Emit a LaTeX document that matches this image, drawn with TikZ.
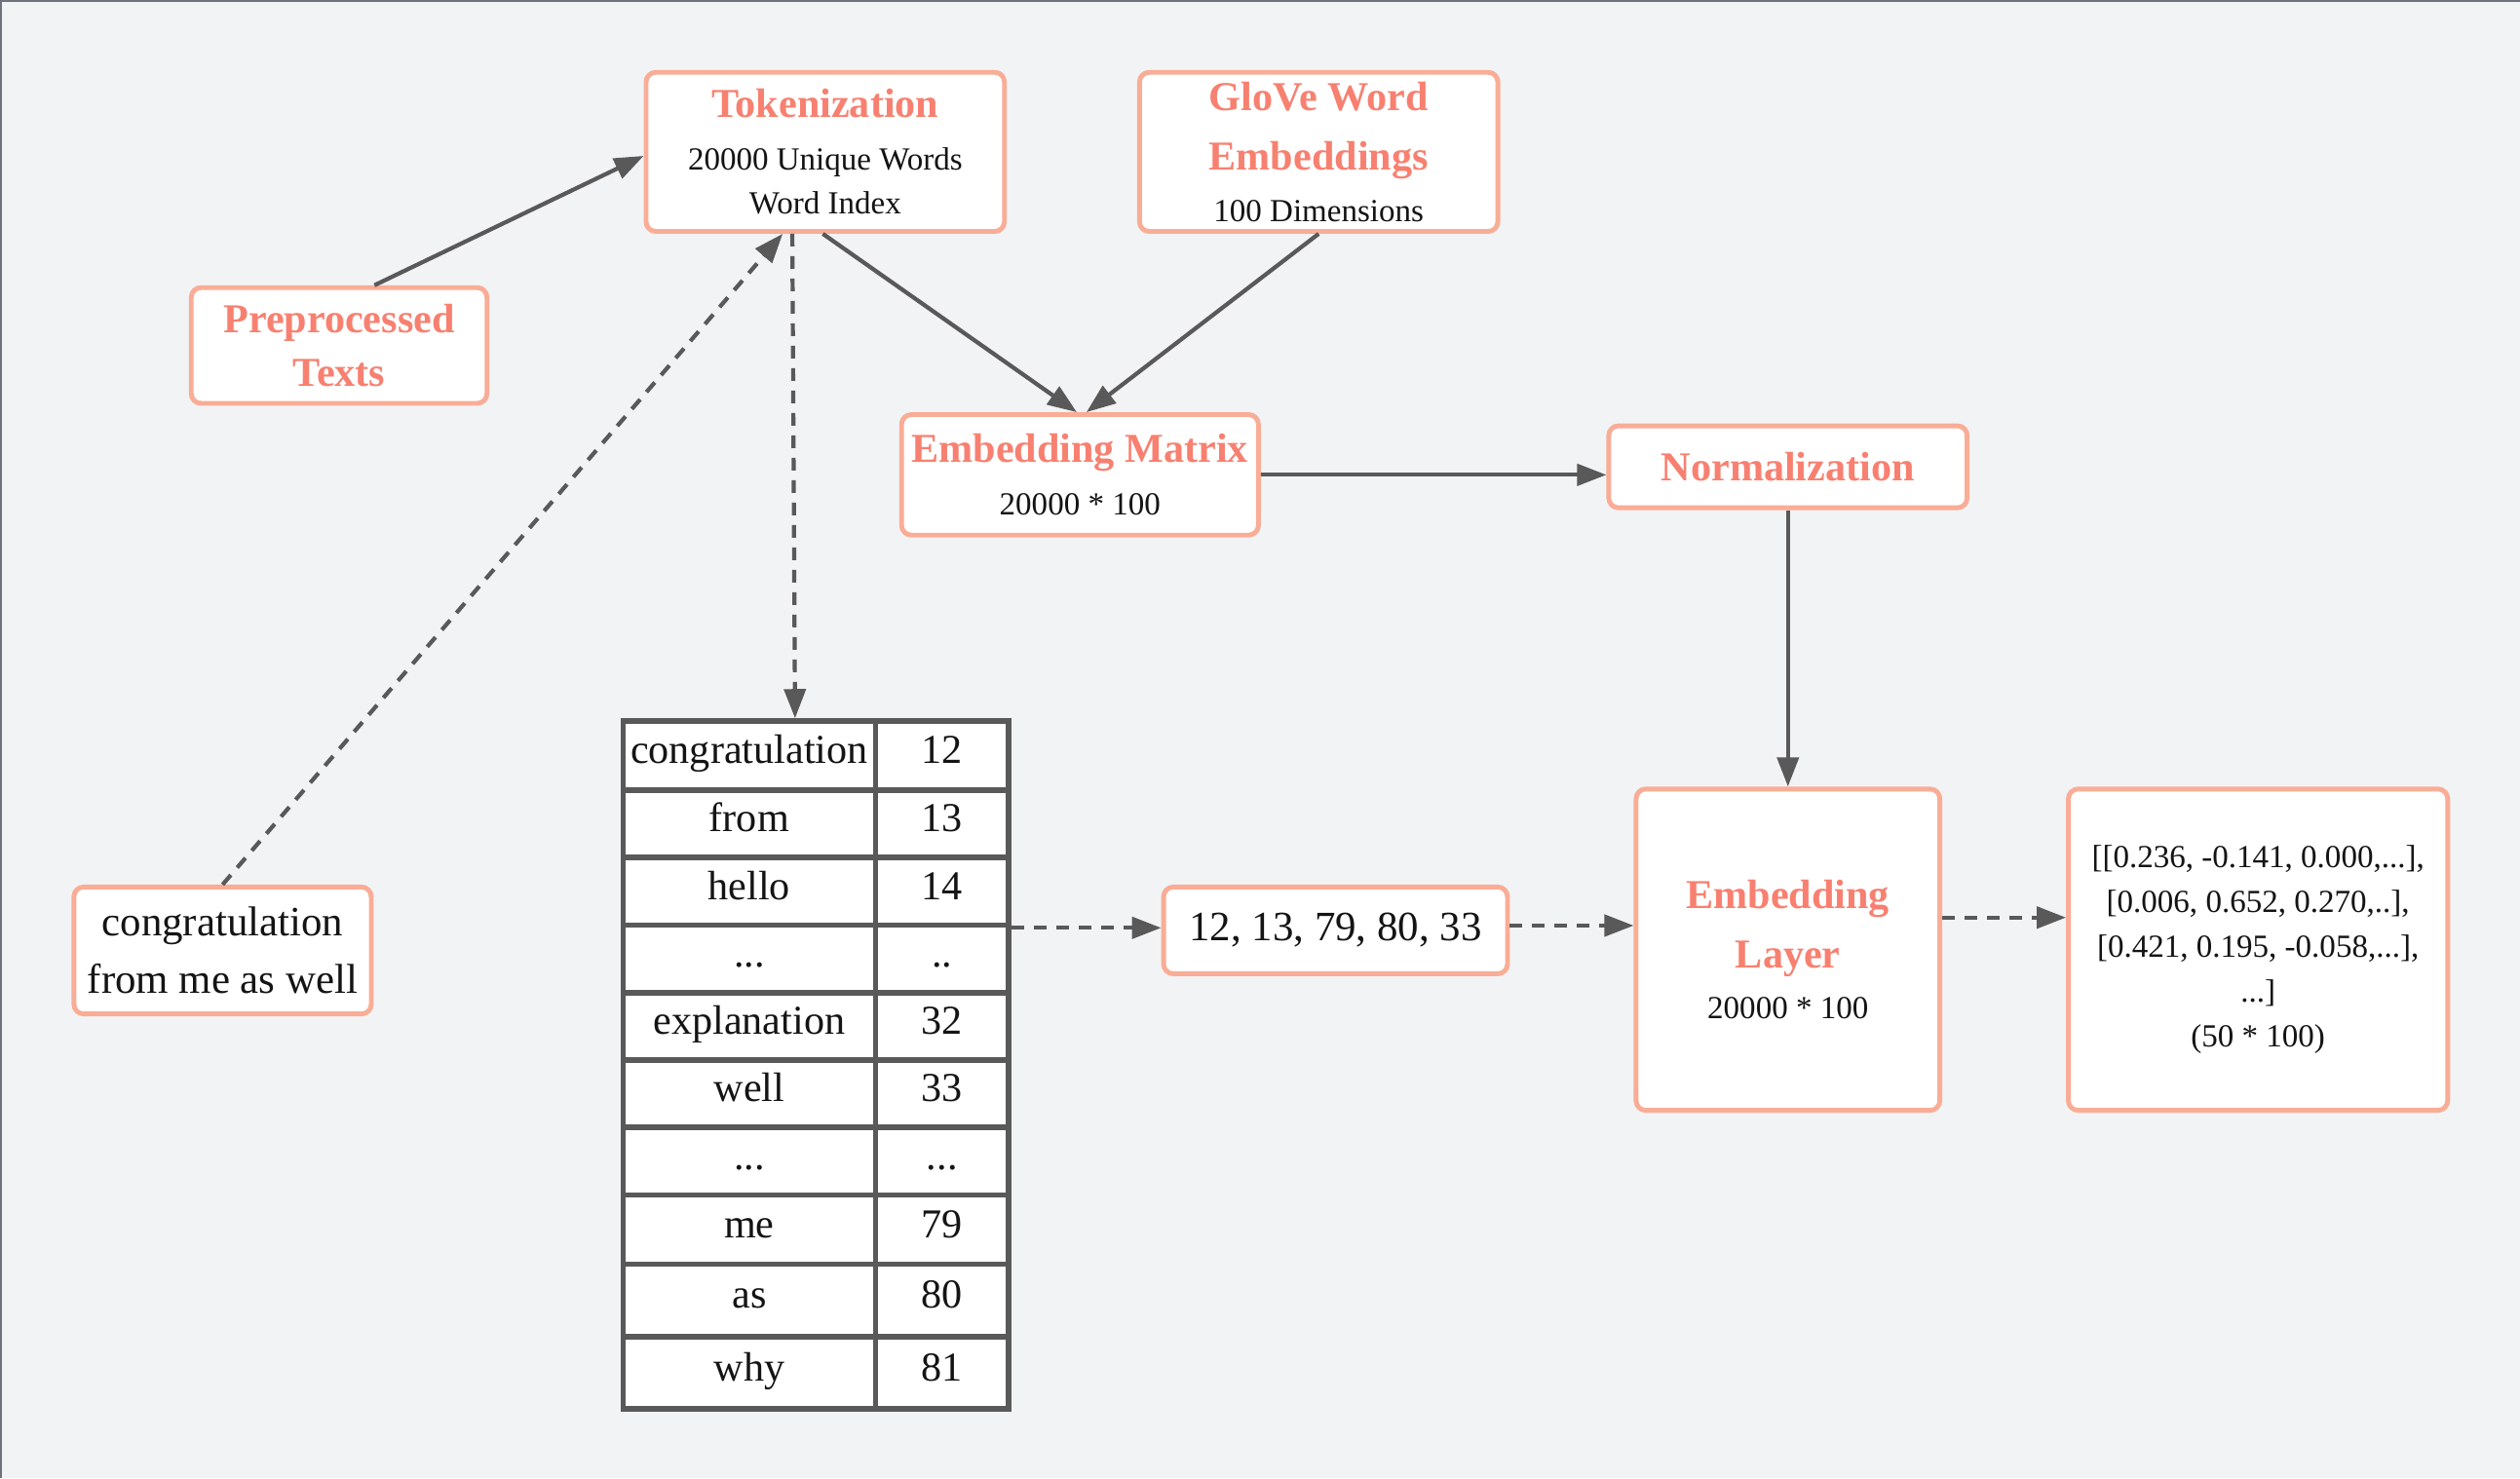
\documentclass[tikz,border=0pt]{standalone}
\usepackage{fontspec}
\setmainfont{Liberation Serif}
\usetikzlibrary{arrows.meta,calc}
\newdimen\px \px=0.0165cm
\definecolor{bgc}{RGB}{242,243,245}
\definecolor{framec}{RGB}{110,114,125}
\definecolor{boxc}{RGB}{249,173,150}
\definecolor{ttlc}{RGB}{248,128,112}
\definecolor{arrc}{RGB}{89,89,89}
\definecolor{txtc}{RGB}{20,20,20}
\newcommand{\ttl}[1]{{\color{ttlc}\bfseries\fontsize{12}{16}\selectfont #1}}
\newcommand{\threedots}{...}
\newcommand{\twodots}{..}
\begin{document}
\begin{tikzpicture}[x=0.0165cm,y=-0.0165cm,
  box/.style={draw=boxc, line width=1.4pt, rounded corners=0.1cm, fill=white, inner sep=0pt,
    align=center, text=txtc, font=\fontsize{9.4}{12.7}\selectfont},
  bigbox/.style={box, font=\fontsize{12.2}{16.9}\selectfont},
  cell/.style={draw=arrc, line width=1.6pt, fill=white, inner sep=0pt, anchor=north west,
    text=txtc, font=\fontsize{12}{14}\selectfont, text height=7.6pt, text depth=2.9pt},
  arr/.style={draw=arrc, line width=1.2pt, -{Triangle[length=0.3cm,width=0.22cm]}},
  darr/.style={arr, dash pattern=on 0.13cm off 0.1cm}]
\useasboundingbox (0,0) rectangle (1568,920);
\fill[bgc] (0,0) rectangle (1568,920);
\draw[framec, line width=1.2pt] (0,920) -- (0,0) -- (1568,0);

% boxes
\node[box, minimum width=223\px, minimum height=99\px] (tok) at (513.5,94.5)
  {\ttl{Tokenization}\\[2.7pt]20000 Unique Words\\Word Index};
\node[box, minimum width=223\px, minimum height=99\px] (glove) at (820.5,94.5)
  {\ttl{GloVe Word}\\[4.6pt]\ttl{Embeddings}\\[2.3pt]100 Dimensions};
\node[box, minimum width=184\px, minimum height=72\px] (pre) at (211,215)
  {\ttl{Preprocessed}\\[3.2pt]\ttl{Texts}};
\node[box, minimum width=222\px, minimum height=75\px] (em) at (672,295.5)
  {\ttl{Embedding Matrix}\\[2.7pt]20000 * 100};
\node[box, minimum width=223\px, minimum height=51\px] (norm) at (1112.5,290.5)
  {\ttl{Normalization}};
\node[box, minimum width=189\px, minimum height=200\px] (layer) at (1112.5,591)
  {\ttl{Embedding}\\[4.6pt]\ttl{Layer}\\[2.3pt]20000 * 100};
\node[box, minimum width=236\px, minimum height=200\px, font=\fontsize{9.4}{13.1}\selectfont] (out) at (1405,591)
  {{}[[0.236, -0.141, 0.000,...],\\{}[0.006, 0.652, 0.270,..],\\{}[0.421, 0.195, -0.058,...],\\{}...]\\(50 * 100)};
\node[bigbox, minimum width=214\px, minimum height=54\px] (seq) at (831,579)
  {12, 13, 79, 80, 33};
\node[bigbox, minimum width=185\px, minimum height=79\px] (sent) at (138.5,591.5)
  {congratulation\\from me as well};

% table
\foreach \i/\w/\n/\t/\b in {1/congratulation/12/447/490, 2/from/13/490/532, 3/hello/14/532/574,
  4/\threedots/\twodots/574/616, 5/explanation/32/616/658, 6/well/33/658/700, 7/\threedots/\threedots/700/742,
  8/me/79/742/785, 9/as/80/785/830, 10/why/81/830/875}{
  \pgfmathsetmacro\hh{\b-\t}
  \node[cell, minimum width=157\px, minimum height=\hh\px] (w\i) at (386,\t) {\w};
  \node[cell, minimum width=83\px, minimum height=\hh\px] (n\i) at (543,\t) {\n};
}

% connectors
\draw[arr] ($(pre.north)+(22,0)$) -- ($(tok.west)+(0,2.5)$);
\draw[darr] (sent.north) -- ($(tok.south)+(-26.5,0)$);
\draw[darr] ($(tok.south)+(-20.5,0)$) -- ($(w1.north)+(28.5,0)$);
\draw[arr] ($(tok.south)+(-1.5,0)$) -- ($(em.north)+(-2,0)$);
\draw[arr] (glove.south) -- ($(em.north)+(4,0)$);
\draw[arr] (em.east) -- (em.east -| norm.west);
\draw[arr] (norm.south) -- (layer.north);
\draw[darr] (n3.south east) -- (n3.south east -| seq.west);
\coordinate (s1) at ($(seq.east)+(0,-3)$);
\draw[darr] (s1) -- (s1 -| layer.west);
\coordinate (l1) at ($(layer.east)+(0,-20)$);
\draw[darr] (l1) -- (l1 -| out.west);
\end{tikzpicture}
\end{document}
